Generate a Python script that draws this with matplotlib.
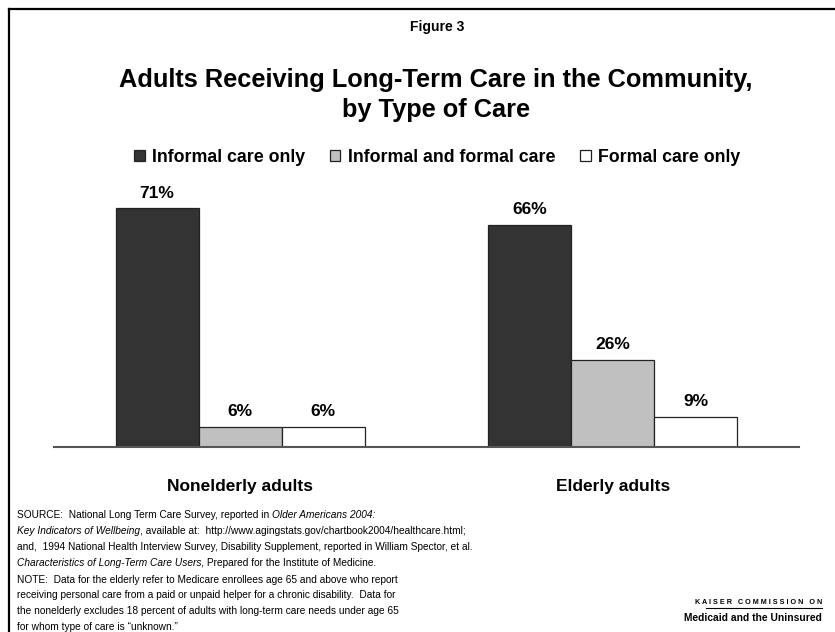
import numpy as np
import matplotlib
matplotlib.use('Agg')
from matplotlib import pyplot as plt
from matplotlib.lines import Line2D

plt.rcParams['font.family'] = ['Liberation Sans', 'DejaVu Sans']

# data
groups = ['Nonelderly adults', 'Elderly adults']
series = ['Informal care only', 'Informal and formal care', 'Formal care only']
informal_only = [71, 66]
informal_formal = [6, 26]
formal_only = [6, 9]
colors = ['#333333', '#c0c0c0', '#ffffff']

W, H = 835, 632
fig = plt.figure(figsize=(W / 100, H / 100), dpi=100)


def fx(px):
    return px / W


def fy(py):
    return 1 - py / H


# frame lines on the left and top
fig.add_artist(Line2D([fx(8.5), fx(8.5)], [fy(9), 0], color='black', lw=1.6))
fig.add_artist(Line2D([fx(8.5), 1], [fy(9), fy(9)], color='black', lw=1.6))

fig.text(fx(437), fy(27), 'Figure 3', ha='center', va='center',
         fontsize=10, fontweight='bold')
fig.text(fx(436), fy(95), 'Adults Receiving Long-Term Care in the Community,\nby Type of Care',
         ha='center', va='center', fontsize=18.3, fontweight='bold', linespacing=1.27)

ax = fig.add_axes([fx(54), fy(447), fx(799) - fx(54), (447 - 178) / H])
x = np.arange(len(groups))
w = 0.223
values = [informal_only, informal_formal, formal_only]
for i, (name, vals, c) in enumerate(zip(series, values, colors)):
    bars = ax.bar(x + (i - 1) * w, vals, w, color=c, edgecolor='#222222',
                  linewidth=0.9, label=name, zorder=2)
    for b, v in zip(bars, vals):
        ax.text(b.get_x() + b.get_width() / 2, v + 4.5, f'{v}%', ha='center',
                va='center', fontsize=12.5, fontweight='bold')

ax.set_xlim(-0.5, 1.5)
ax.set_ylim(0, 80)
for s in ['top', 'right', 'left']:
    ax.spines[s].set_visible(False)
ax.spines['bottom'].set_color('#555555')
ax.spines['bottom'].set_linewidth(1.5)
ax.set_yticks([])
ax.set_xticks(x)
ax.set_xticklabels(groups, fontsize=12.5, fontweight='bold')
ax.tick_params(axis='x', length=0, pad=23)

# legend in one row with small square keys
ax.legend(loc='center', bbox_to_anchor=(fx(437), fy(157)),
          bbox_transform=fig.transFigure, ncol=3, frameon=False,
          handlelength=0.6, handleheight=0.6, handletextpad=0.4,
          columnspacing=1.4, borderaxespad=0, prop={'size': 12.8, 'weight': 'bold'})

fs = 7.3
lx = fx(17)
fig.canvas.draw()
r = fig.canvas.get_renderer()


def after(txt, s, y, **kw):
    bb = txt.get_window_extent(r)
    return fig.text(bb.x1 / W, fy(y), s, fontsize=fs, va='center', **kw)


t0 = fig.text(lx, fy(515), 'SOURCE:  National Long Term Care Survey, reported in ',
              fontsize=fs, va='center')
after(t0, 'Older Americans 2004:', 515, style='italic')
t1 = fig.text(lx, fy(531), 'Key Indicators of Wellbeing', fontsize=fs, va='center',
              style='italic')
after(t1, ', available at:  http://www.agingstats.gov/chartbook2004/healthcare.html;', 531)
fig.text(lx, fy(547), 'and,  1994 National Health Interview Survey, Disability Supplement, '
         'reported in William Spector, et al.', fontsize=fs, va='center')
t2 = fig.text(lx, fy(563), 'Characteristics of Long-Term Care Users,', fontsize=fs,
              va='center', style='italic')
after(t2, ' Prepared for the Institute of Medicine.', 563)

note = ['NOTE:  Data for the elderly refer to Medicare enrollees age 65 and above who report',
        'receiving personal care from a paid or unpaid helper for a chronic disability.  Data for',
        'the nonelderly excludes 18 percent of adults with long-term care needs under age 65',
        'for whom type of care is \u201cunknown.\u201d']
for k, line in enumerate(note):
    fig.text(lx, fy(580 + 15.5 * k), line, fontsize=fs, va='center')

# organisation mark, bottom right
fig.text(fx(822), fy(603), 'K A I S E R   C O M M I S S I O N   O N', ha='right',
         va='center', fontsize=5.2, fontweight='bold')
fig.add_artist(Line2D([fx(706), fx(822)], [fy(607.5), fy(607.5)], color='black', lw=0.8))
fig.text(fx(822), fy(618), 'Medicaid and the Uninsured', ha='right', va='center',
         fontsize=7.4, fontweight='bold')

fig.savefig('out.png', dpi=100)
